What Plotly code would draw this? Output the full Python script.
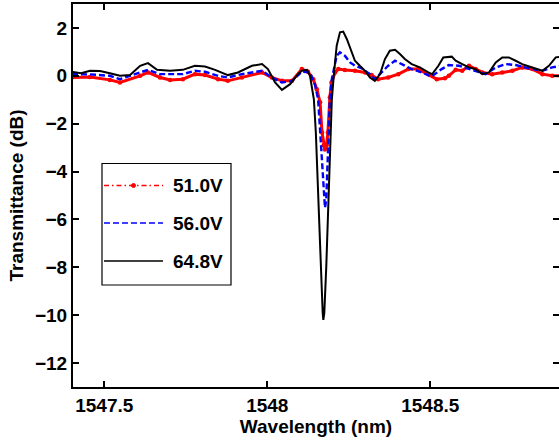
import plotly.graph_objects as go

# ---------------- data ----------------
wl_64_8 = [1547.401, 1547.429, 1547.456, 1547.487, 1547.517, 1547.548, 1547.579, 1547.610, 1547.634, 1547.662,
           1547.702, 1547.741, 1547.778, 1547.809, 1547.840, 1547.879, 1547.910, 1547.953, 1547.984, 1548.002,
           1548.024, 1548.045, 1548.070, 1548.094, 1548.106, 1548.122, 1548.131, 1548.143, 1548.149, 1548.156,
           1548.164, 1548.170, 1548.172, 1548.175, 1548.181, 1548.188, 1548.195, 1548.198, 1548.204, 1548.213,
           1548.223, 1548.233, 1548.244, 1548.254, 1548.264, 1548.269, 1548.284, 1548.300, 1548.315, 1548.330,
           1548.346, 1548.361, 1548.376, 1548.392, 1548.407, 1548.422, 1548.443, 1548.468, 1548.494, 1548.506,
           1548.525, 1548.540, 1548.566, 1548.578, 1548.598, 1548.619, 1548.639, 1548.660, 1548.680, 1548.701,
           1548.721, 1548.741, 1548.762, 1548.782, 1548.813, 1548.844, 1548.864, 1548.885, 1548.901]
tr_64_8 = [0.17, 0.11, 0.21, 0.20, 0.11, 0.00, 0.03, 0.42, 0.53, 0.25,
           0.21, 0.25, 0.42, 0.39, 0.25, 0.03, 0.14, 0.42, 0.49, 0.28,
           -0.28, -0.59, -0.35, 0.07, 0.21, 0.25, 0.00, -0.98, -2.37, -5.18,
           -7.97, -9.90, -10.20, -9.90, -7.97, -5.18, -2.37, -1.00, 0.00, 1.26,
           1.82, 1.85, 1.54, 1.15, 0.84, 0.63, 0.42, 0.21, -0.07, -0.21,
           0.07, 0.70, 1.05, 1.09, 0.91, 0.70, 0.49, 0.35, 0.14, 0.07,
           0.42, 0.77, 0.80, 0.63, 0.49, 0.35, 0.28, 0.07, 0.14, 0.56,
           0.77, 0.77, 0.63, 0.49, 0.35, 0.21, 0.42, 0.77, 0.80]

wl_56_0 = [1547.401, 1547.456, 1547.517, 1547.548, 1547.610, 1547.634, 1547.671, 1547.741, 1547.778, 1547.809,
           1547.849, 1547.879, 1547.922, 1547.984, 1548.014, 1548.045, 1548.076, 1548.106, 1548.131, 1548.146,
           1548.156, 1548.162, 1548.169, 1548.174, 1548.177, 1548.181, 1548.185, 1548.190, 1548.192, 1548.198,
           1548.213, 1548.223, 1548.238, 1548.254, 1548.269, 1548.290, 1548.315, 1548.330, 1548.351, 1548.371,
           1548.392, 1548.412, 1548.443, 1548.474, 1548.504, 1548.535, 1548.557, 1548.588, 1548.619, 1548.649,
           1548.670, 1548.701, 1548.731, 1548.762, 1548.803, 1548.844, 1548.874, 1548.901]
tr_56_0 = [0.07, 0.06, 0.00, -0.14, 0.14, 0.25, 0.07, 0.07, 0.21, 0.17,
           0.00, -0.07, 0.07, 0.21, -0.07, -0.28, -0.21, 0.17, 0.14, -0.35,
           -0.98, -2.37, -3.77, -5.18, -5.51, -5.18, -3.77, -2.37, -0.98, -0.14,
           0.84, 0.98, 0.84, 0.56, 0.42, 0.31, 0.07, -0.14, 0.14, 0.42,
           0.63, 0.49, 0.28, 0.14, -0.03, 0.28, 0.45, 0.42, 0.28, 0.14,
           0.07, 0.35, 0.49, 0.45, 0.31, 0.21, 0.35, 0.42]

wl_51_0 = [1547.401, 1547.456, 1547.517, 1547.548, 1547.610, 1547.634, 1547.671, 1547.702, 1547.741, 1547.778,
           1547.809, 1547.849, 1547.879, 1547.922, 1547.984, 1548.014, 1548.045, 1548.076, 1548.106, 1548.125,
           1548.141, 1548.152, 1548.162, 1548.168, 1548.173, 1548.177, 1548.182, 1548.186, 1548.192, 1548.197,
           1548.208, 1548.218, 1548.238, 1548.269, 1548.300, 1548.320, 1548.340, 1548.371, 1548.402, 1548.433,
           1548.463, 1548.494, 1548.520, 1548.545, 1548.557, 1548.578, 1548.598, 1548.619, 1548.639, 1548.660,
           1548.690, 1548.721, 1548.752, 1548.782, 1548.813, 1548.844, 1548.874, 1548.901]
tr_51_0 = [-0.07, -0.05, -0.17, -0.28, 0.00, 0.14, -0.07, -0.17, -0.14, 0.07,
           0.03, -0.14, -0.21, -0.07, 0.14, -0.07, -0.21, -0.21, 0.28, 0.17,
           -0.14, -0.56, -1.10, -2.37, -2.90, -3.08, -2.90, -2.37, -0.90, -0.28,
           0.14, 0.28, 0.24, 0.21, 0.14, 0.03, -0.14, -0.07, 0.07, 0.28,
           0.28, 0.07, -0.14, -0.10, 0.00, 0.25, 0.21, 0.42, 0.28, 0.14,
           0.07, 0.14, 0.21, 0.35, 0.28, 0.07, 0.00, 0.00]

labels = ["51.0V", "56.0V", "64.8V"]
x_ticks = [1547.5, 1548, 1548.5]
x_tick_text = ["1547.5", "1548", "1548.5"]
y_ticks = [-12, -10, -8, -6, -4, -2, 0, 2]

# ---------------- figure ----------------
W, H = 559, 441
ML, MR, MT, MB = 73, 0, 4, 54
FONT = "Liberation Sans, Arial, Helvetica, sans-serif"
fs = 19
DASH_BLUE = "6px,3px"
DASH_RED = "5px,3px,1.5px,3px"

fig = go.Figure()
fig.add_trace(go.Scatter(x=wl_51_0, y=tr_51_0, mode="lines+markers",
                         line=dict(color="#ff0000", width=3.0),
                         marker=dict(color="#ff0000", size=4.5), showlegend=False))
fig.add_trace(go.Scatter(x=wl_56_0, y=tr_56_0, mode="lines",
                         line=dict(color="#0000ff", width=2.4, dash=DASH_BLUE), showlegend=False))
fig.add_trace(go.Scatter(x=wl_64_8, y=tr_64_8, mode="lines",
                         line=dict(color="#000000", width=2.0), showlegend=False))
# invisible trace to keep right tick axis alive
fig.add_trace(go.Scatter(x=[None], y=[None], yaxis="y2", showlegend=False, hoverinfo="skip"))

pw = W - ML - MR
ph = H - MT - MB


def px(xp):
    return (xp - ML) / pw


def py(yp):
    return (H - MB - yp) / ph


shapes = []
annotations = []
# legend box
shapes.append(dict(type="rect", xref="paper", yref="paper",
                   x0=px(102), x1=px(231), y0=py(285), y1=py(163.5),
                   line=dict(color="black", width=1.2), fillcolor="white", layer="above"))
leg_y = [185.5, 223, 261]
leg_style = [dict(color="#ff0000", width=1.6, dash=DASH_RED),
             dict(color="#0000ff", width=1.6, dash=DASH_BLUE),
             dict(color="#000000", width=1.6)]
for yy, st, lab in zip(leg_y, leg_style, labels):
    shapes.append(dict(type="line", xref="paper", yref="paper",
                       x0=px(104), x1=px(163), y0=py(yy), y1=py(yy),
                       line=st, layer="above"))
    annotations.append(dict(xref="paper", yref="paper", x=px(171), y=py(yy),
                            xanchor="left", yanchor="middle", text=lab, showarrow=False,
                            font=dict(family=FONT, size=fs, color="black", weight="bold")))
# red legend marker
shapes.append(dict(type="circle", xref="paper", yref="paper",
                   x0=px(131.5), x1=px(135.5), y0=py(leg_y[0] + 2), y1=py(leg_y[0] - 2),
                   line=dict(color="#ff0000", width=1), fillcolor="#ff0000", layer="above"))

tickfont = dict(family=FONT, size=fs, color="black", weight="bold")
fig.update_layout(
    width=W, height=H,
    margin=dict(l=ML, r=MR, t=MT, b=MB, pad=0, autoexpand=False),
    paper_bgcolor="white", plot_bgcolor="white",
    showlegend=False,
    xaxis=dict(range=[1547.404, 1548.895], tickvals=x_ticks, ticktext=x_tick_text,
               ticks="inside", ticklen=6, tickwidth=1.5, tickcolor="black",
               showline=True, linecolor="black", linewidth=2, mirror="ticks",
               showgrid=False, zeroline=False, tickfont=tickfont, automargin=False,
               title=dict(text="Wavelength (nm)", font=tickfont, standoff=4)),
    yaxis=dict(range=[-13, 3], tickvals=y_ticks,
               ticks="inside", ticklen=6, tickwidth=1.5, tickcolor="black",
               showline=True, linecolor="black", linewidth=2, mirror=False,
               showgrid=False, zeroline=False, tickfont=tickfont, automargin=False,
               title=dict(text="Transmittance (dB)", font=tickfont, standoff=6)),
    yaxis2=dict(range=[-13, 3], tickvals=y_ticks, overlaying="y", side="right",
                ticks="inside", ticklen=6, tickwidth=1.5, tickcolor="black",
                showline=False, showgrid=False, zeroline=False, showticklabels=False,
                automargin=False),
    shapes=shapes, annotations=annotations,
)

fig.write_html("out.html", config={"displayModeBar": False},
               post_script="document.body.style.margin='0';document.body.style.overflow='hidden';")
